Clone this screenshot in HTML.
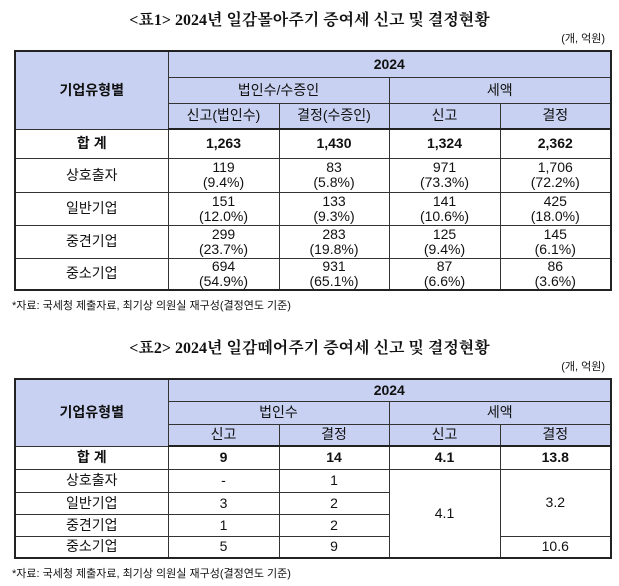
<!DOCTYPE html>
<html><head><meta charset="utf-8"><style>
body{margin:0;width:619px;height:586px;background:#fff;position:relative;overflow:hidden;font-family:"Liberation Sans","Noto Sans CJK KR",sans-serif;color:#111}
.title{position:absolute;left:0;width:619px;text-align:center;font-family:"Liberation Serif","Noto Serif CJK SC","Noto Sans CJK KR",serif;font-weight:bold;font-size:16px}
.unit{position:absolute;right:14px;font-size:11px}
.note{position:absolute;left:12px;font-size:11px}
table{position:absolute;left:14px;width:596px;border-collapse:collapse;table-layout:fixed;border:2px solid #222}
td{border:1px solid #333;text-align:center;font-size:14px;padding:0;line-height:15px;overflow:hidden}
.h{background:#c8d1f1}
.b{font-weight:bold}
.hb td.h{border-bottom:2px solid #222}
</style></head><body>
<div class="title" style="top:7px">&lt;표1&gt; 2024년 일감몰아주기 증여세 신고 및 결정현황</div>
<div class="unit" style="top:30px">(개, 억원)</div>
<table style="top:50px">
<colgroup><col style="width:153px"><col style="width:111px"><col style="width:110px"><col style="width:111px"><col style="width:111px"></colgroup>
<tr style="height:26px"><td class="h b" rowspan="3">기업유형별</td><td class="h b" colspan="4">2024</td></tr>
<tr style="height:26px"><td class="h" colspan="2">법인수/수증인</td><td class="h" colspan="2">세액</td></tr>
<tr style="height:26px" class="hb"><td class="h">신고(법인수)</td><td class="h">결정(수증인)</td><td class="h">신고</td><td class="h">결정</td></tr>
<tr style="height:29px" class="b"><td>합 계</td><td>1,263</td><td>1,430</td><td>1,324</td><td>2,362</td></tr>
<tr style="height:34px"><td>상호출자</td><td>119<br>(9.4%)</td><td>83<br>(5.8%)</td><td>971<br>(73.3%)</td><td>1,706<br>(72.2%)</td></tr>
<tr style="height:33px"><td>일반기업</td><td>151<br>(12.0%)</td><td>133<br>(9.3%)</td><td>141<br>(10.6%)</td><td>425<br>(18.0%)</td></tr>
<tr style="height:33px"><td>중견기업</td><td>299<br>(23.7%)</td><td>283<br>(19.8%)</td><td>125<br>(9.4%)</td><td>145<br>(6.1%)</td></tr>
<tr style="height:32px"><td>중소기업</td><td>694<br>(54.9%)</td><td>931<br>(65.1%)</td><td>87<br>(6.6%)</td><td>86<br>(3.6%)</td></tr>
</table>
<div class="note" style="top:297px">*자료: 국세청 제출자료, 최기상 의원실 재구성(결정연도 기준)</div>

<div class="title" style="top:335px">&lt;표2&gt; 2024년 일감떼어주기 증여세 신고 및 결정현황</div>
<div class="unit" style="top:358px">(개, 억원)</div>
<table style="top:378px">
<colgroup><col style="width:153px"><col style="width:111px"><col style="width:110px"><col style="width:111px"><col style="width:111px"></colgroup>
<tr style="height:22px"><td class="h b" rowspan="3">기업유형별</td><td class="h b" colspan="4">2024</td></tr>
<tr style="height:23px"><td class="h" colspan="2">법인수</td><td class="h" colspan="2">세액</td></tr>
<tr style="height:22px" class="hb"><td class="h">신고</td><td class="h">결정</td><td class="h">신고</td><td class="h">결정</td></tr>
<tr style="height:23px" class="b"><td>합 계</td><td>9</td><td>14</td><td>4.1</td><td>13.8</td></tr>
<tr style="height:23px"><td>상호출자</td><td>-</td><td>1</td><td rowspan="4">4.1</td><td rowspan="3">3.2</td></tr>
<tr style="height:22px"><td>일반기업</td><td>3</td><td>2</td></tr>
<tr style="height:22px"><td>중견기업</td><td>1</td><td>2</td></tr>
<tr style="height:22px"><td>중소기업</td><td>5</td><td>9</td><td>10.6</td></tr>
</table>
<div class="note" style="top:565px">*자료: 국세청 제출자료, 최기상 의원실 재구성(결정연도 기준)</div>
</body></html>
